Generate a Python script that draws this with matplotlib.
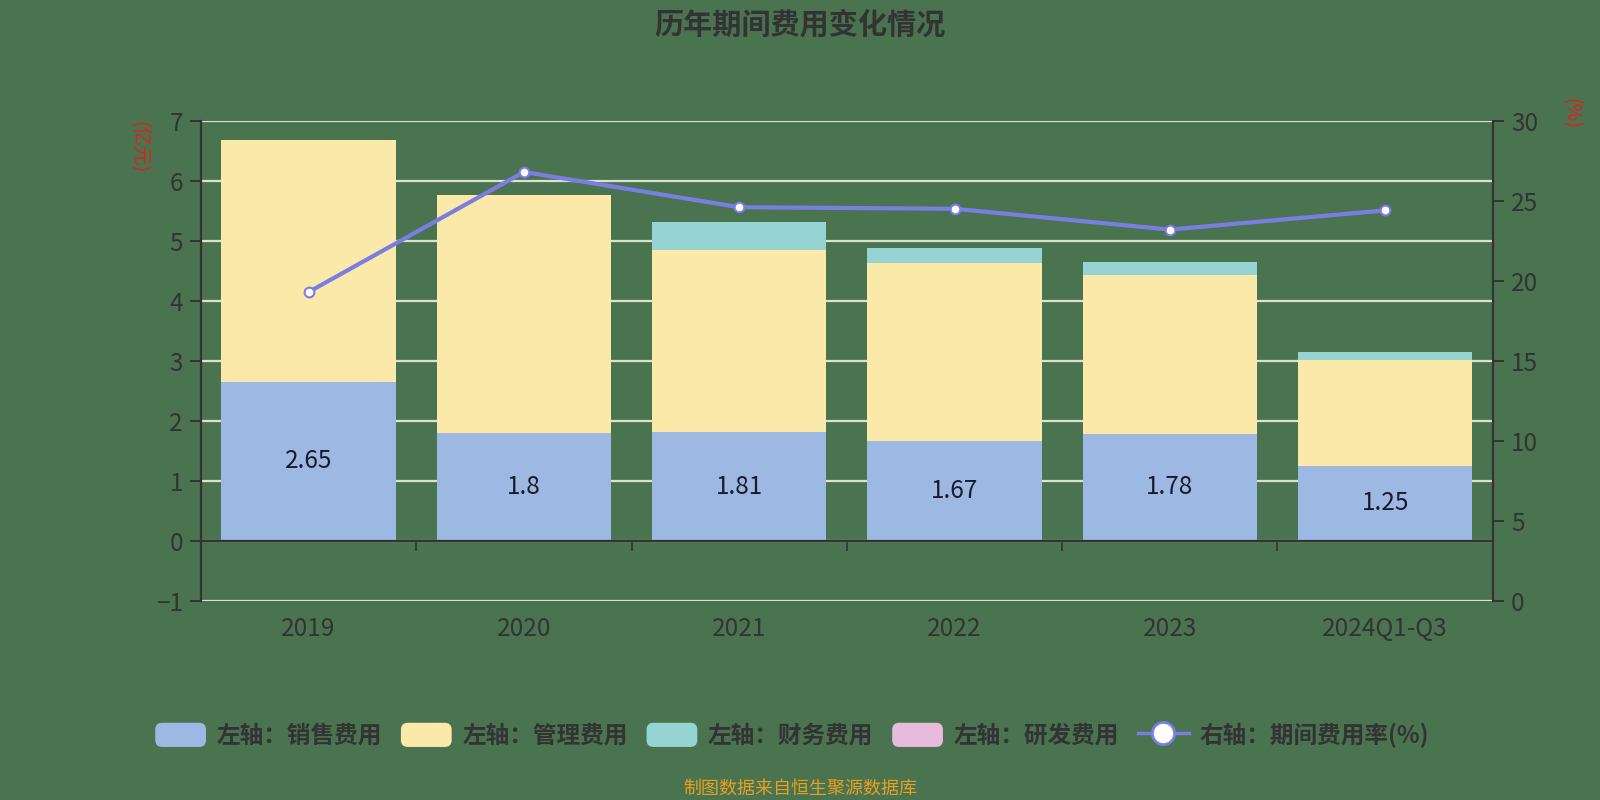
import matplotlib
matplotlib.use("Agg")
import matplotlib.pyplot as plt
from matplotlib.patches import FancyBboxPatch
from matplotlib.legend_handler import HandlerPatch
from matplotlib.lines import Line2D
import matplotlib.patches as mpatches
import numpy as np

plt.rcParams['font.family'] = ['Noto Sans CJK SC', 'DejaVu Sans']

years = ['2019', '2020', '2021', '2022', '2023', '2024Q1-Q3']
sales = [2.65, 1.80, 1.81, 1.67, 1.78, 1.25]
admin = [4.03, 3.97, 3.04, 2.96, 2.65, 1.76]
finance = [0.00, 0.00, 0.46, 0.25, 0.22, 0.14]
rnd = [0.00, 0.00, 0.00, 0.00, 0.00, 0.00]
rate = [19.3, 26.8, 24.6, 24.5, 23.2, 24.4]

bg = '#4a7350'
dark = '#333333'
c_sales = '#9db9e3'
c_admin = '#fbe9aa'
c_fin = '#95d4d3'
c_rnd = '#e8badb'
c_line = '#7a7ee2'
grid_c = '#dde2cf'

fig = plt.figure(figsize=(16, 8), dpi=100, facecolor=bg)
ax = fig.add_axes([0.1256, 0.249, 0.8074, 0.6])
ax.set_facecolor(bg)

x = np.arange(len(years))
w = 0.81
sales = np.array(sales)
admin = np.array(admin)
finance = np.array(finance)
rnd = np.array(rnd)

ax.bar(x, sales, w, color=c_sales, zorder=3)
ax.bar(x, admin, w, bottom=sales, color=c_admin, zorder=3)
ax.bar(x, finance, w, bottom=sales + admin, color=c_fin, zorder=3)
ax.bar(x, rnd, w, bottom=sales + admin + finance, color=c_rnd, zorder=3)

for xi, v in zip(x, sales):
    ax.text(xi, v / 2, f'{v:g}', ha='center', va='center', fontsize=17.5,
            color='#1a1a2a', zorder=5)

ax.set_xlim(-0.5, len(years) - 0.5)
ax.set_ylim(-1, 7)
ax.set_yticks(range(-1, 8))
ax.yaxis.grid(True, color=grid_c, linewidth=1.6, zorder=1)
ax.set_axisbelow(True)

for s in ['top', 'bottom', 'right']:
    ax.spines[s].set_visible(False)
ax.spines['left'].set_color(dark)
ax.spines['left'].set_linewidth(1.6)

ax.set_xticks(x)
ax.set_xticklabels(years, fontsize=17.5, color=dark, fontweight='medium')
ax.tick_params(axis='x', length=0, pad=11)
ax.tick_params(axis='y', length=8, width=1.4, color=dark, labelsize=17.5,
               labelcolor=dark, pad=5)
for t in ax.get_yticklabels():
    t.set_fontweight('medium')

# zero line with category boundary ticks
ax.axhline(0, color=dark, linewidth=1.6, zorder=4)
sec = ax.secondary_xaxis(1 / 8)
sec.set_xticks(np.arange(-0.5, len(years), 1.0))
sec.set_xticklabels([])
sec.tick_params(axis='x', direction='out', length=7, width=1.2, color=dark)
sec.spines['bottom'].set_visible(False)
sec.spines['top'].set_visible(False)

ax2 = ax.twinx()
ax2.set_ylim(0, 30)
ax2.set_yticks(range(0, 31, 5))
for s in ['top', 'bottom', 'left']:
    ax2.spines[s].set_visible(False)
ax2.spines['right'].set_color(dark)
ax2.spines['right'].set_linewidth(1.6)
ax2.tick_params(axis='y', length=8, width=1.4, color=dark, labelsize=17.5,
                labelcolor=dark, pad=5)
for t in ax2.get_yticklabels():
    t.set_fontweight('medium')
ax2.plot(x, rate, color=c_line, linewidth=3, marker='o', markersize=7,
         markerfacecolor='white', markeredgecolor=c_line, markeredgewidth=1.5,
         zorder=6)

fig.text(0.5, 0.969, '历年期间费用变化情况', ha='center', va='center',
         fontsize=21, fontweight='bold', color=dark)
fig.text(0.0865, 0.816, '(亿元)', ha='center', va='center', rotation=-90,
         fontsize=14, color='#e02020')
fig.text(0.9815, 0.858, '(%)', ha='center', va='center', rotation=-90,
         fontsize=14, color='#e02020')
fig.text(0.5, 0.014, '制图数据来自恒生聚源数据库', ha='center', va='center',
         fontsize=13, color='#e8a020')


class RoundHandler(HandlerPatch):
    def create_artists(self, legend, orig_handle, xdescent, ydescent,
                       width, height, fontsize, trans):
        p = FancyBboxPatch((-xdescent, -ydescent), width, height,
                           boxstyle='round,pad=0,rounding_size=5',
                           facecolor=orig_handle.get_facecolor(),
                           edgecolor='none', transform=trans)
        return [p]


handles = [mpatches.Patch(color=c_sales), mpatches.Patch(color=c_admin),
           mpatches.Patch(color=c_fin), mpatches.Patch(color=c_rnd),
           Line2D([], [], color=c_line, linewidth=2.5, marker='o',
                  markersize=16, markerfacecolor='white',
                  markeredgecolor=c_line, markeredgewidth=2)]
labels = ['左轴：销售费用', '左轴：管理费用', '左轴：财务费用', '左轴：研发费用',
          '右轴：期间费用率(%)']
hm = {h: RoundHandler() for h in handles[:4]}
leg = fig.legend(handles, labels, loc='center', bbox_to_anchor=(0.495, 0.081),
                 ncol=5, frameon=False, fontsize=17, handlelength=2.15,
                 handleheight=1.2, handletextpad=0.45, columnspacing=0.8,
                 handler_map=hm)
for t in leg.get_texts():
    t.set_color(dark)
    t.set_fontweight('bold')

fig.savefig('out.png', dpi=100, facecolor=bg)
